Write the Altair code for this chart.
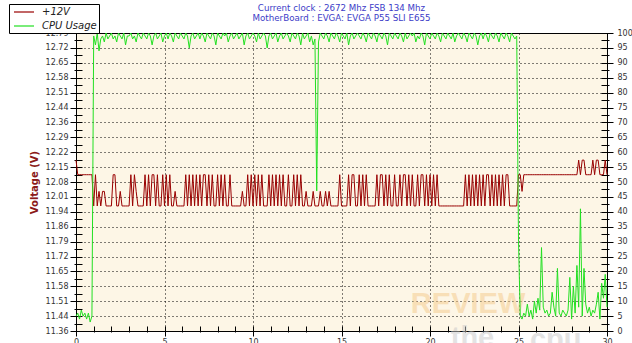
import altair as alt
import pandas as pd

# ---------------- data ----------------
# +12V readings, one row per second, sampled every 0.1 s (t = 0.0 ... 30.0)
volt_rows = [
    [12.18, 12.11, 12.11, 12.11, 12.11, 12.11, 12.11, 12.11, 12.11, 12.11],
    [11.96, 12.11, 11.96, 12.03, 11.96, 12.03, 12.03, 11.96, 11.96, 11.96],
    [11.96, 12.11, 12.11, 11.96, 11.96, 12.03, 11.96, 11.96, 11.96, 11.96],
    [11.96, 12.11, 11.96, 12.11, 12.03, 11.96, 11.96, 11.96, 11.96, 12.11],
    [11.96, 12.11, 11.96, 12.11, 12.11, 11.96, 12.11, 11.96, 11.96, 12.11],
    [11.96, 12.11, 11.96, 12.11, 11.96, 11.96, 12.03, 11.96, 11.96, 11.96],
    [11.96, 11.96, 12.11, 11.96, 12.11, 11.96, 12.11, 11.96, 12.11, 11.96],
    [12.11, 11.96, 12.11, 12.11, 11.96, 12.11, 11.96, 12.11, 11.96, 11.96],
    [12.11, 11.96, 12.11, 11.96, 12.11, 11.96, 11.96, 12.11, 11.96, 11.96],
    [11.96, 11.96, 11.96, 11.96, 12.03, 11.96, 11.96, 12.11, 11.96, 12.11],
    [11.96, 12.11, 11.96, 12.11, 11.96, 12.11, 11.96, 11.96, 11.96, 12.11],
    [11.96, 12.11, 11.96, 12.11, 11.96, 12.11, 11.96, 12.11, 11.96, 11.96],
    [12.11, 11.96, 11.96, 12.11, 11.96, 12.11, 11.96, 12.11, 11.96, 11.96],
    [12.03, 11.96, 11.96, 11.96, 12.03, 11.96, 11.96, 11.96, 12.03, 11.96],
    [11.96, 12.03, 11.96, 12.03, 11.96, 11.96, 11.96, 11.96, 11.96, 12.11],
    [11.96, 11.96, 11.96, 11.96, 12.11, 11.96, 12.11, 12.11, 11.96, 11.96],
    [12.11, 11.96, 12.11, 11.96, 12.11, 11.96, 11.96, 11.96, 11.96, 11.96],
    [12.11, 11.96, 12.11, 12.11, 11.96, 12.11, 11.96, 12.11, 11.96, 11.96],
    [12.11, 11.96, 11.96, 12.11, 11.96, 12.11, 12.11, 11.96, 12.11, 11.96],
    [12.11, 11.96, 11.96, 12.11, 11.96, 12.11, 12.11, 11.96, 12.11, 11.96],
    [12.11, 11.96, 12.11, 11.96, 12.11, 11.96, 11.96, 11.96, 11.96, 11.96],
    [11.96, 11.96, 11.96, 11.96, 11.96, 11.96, 11.96, 11.96, 11.96, 11.96],
    [12.11, 11.96, 12.11, 11.96, 12.11, 11.96, 12.11, 11.96, 12.11, 11.96],
    [12.11, 11.96, 12.11, 12.11, 11.96, 12.11, 11.96, 12.11, 11.96, 12.11],
    [11.96, 12.11, 11.96, 12.11, 12.11, 11.96, 11.96, 11.96, 11.96, 11.96],
    [12.11, 12.11, 12.03, 12.11, 12.11, 12.11, 12.11, 12.11, 12.11, 12.11],
    [12.11, 12.11, 12.11, 12.11, 12.11, 12.11, 12.11, 12.11, 12.11, 12.11],
    [12.11, 12.11, 12.11, 12.11, 12.11, 12.11, 12.11, 12.11, 12.11, 12.11],
    [12.11, 12.11, 12.11, 12.11, 12.18, 12.11, 12.18, 12.18, 12.11, 12.11],
    [12.11, 12.11, 12.18, 12.11, 12.18, 12.18, 12.11, 12.11, 12.11, 12.18],
    [12.11],
]

# CPU usage (%), same sampling
cpu_rows = [
    [5, 6, 4, 7, 5, 6, 4, 6, 3, 5],
    [99, 96, 100, 94, 98, 99, 97, 100, 98, 99],
    [100, 98, 99, 97, 100, 99, 98, 100, 96, 99],
    [99, 100, 98, 99, 97, 100, 99, 98, 100, 99],
    [98, 100, 99, 96, 99, 100, 98, 99, 100, 97],
    [99, 100, 98, 100, 99, 97, 100, 99, 98, 100],
    [99, 98, 100, 99, 95, 99, 100, 98, 99, 100],
    [98, 100, 99, 97, 100, 99, 98, 100, 99, 96],
    [100, 99, 98, 100, 99, 100, 97, 99, 100, 98],
    [99, 100, 98, 99, 100, 96, 99, 100, 98, 99],
    [100, 99, 97, 100, 98, 99, 100, 99, 95, 99],
    [100, 98, 99, 100, 97, 99, 100, 98, 99, 100],
    [99, 97, 100, 99, 98, 100, 99, 96, 100, 98],
    [99, 100, 97, 99, 96, 98, 47, 97, 100, 99],
    [98, 100, 99, 97, 100, 99, 98, 100, 99, 97],
    [100, 99, 98, 100, 96, 99, 100, 98, 99, 100],
    [99, 98, 100, 99, 97, 100, 99, 98, 100, 99],
    [97, 100, 99, 98, 100, 99, 96, 100, 99, 98],
    [100, 99, 98, 100, 99, 97, 100, 98, 99, 100],
    [99, 100, 97, 99, 98, 100, 99, 96, 100, 99],
    [98, 100, 99, 98, 100, 99, 97, 100, 99, 98],
    [100, 99, 98, 100, 97, 99, 100, 99, 98, 100],
    [99, 97, 100, 99, 98, 100, 99, 96, 99, 100],
    [98, 100, 99, 97, 100, 99, 98, 100, 99, 97],
    [100, 99, 98, 100, 99, 97, 100, 99, 98, 99],
    [30, 5, 4, 6, 5, 9, 5, 7, 4, 10],
    [6, 11, 7, 28, 8, 6, 7, 5, 6, 13],
    [8, 5, 21, 6, 5, 7, 6, 5, 7, 18],
    [4, 15, 6, 22, 8, 41, 5, 21, 9, 6],
    [8, 5, 7, 6, 9, 13, 4, 16, 11, 19],
    [8],
]

series_names = ["+12V", "CPU Usage"]
series_colors = ["#990000", "#22e022"]

volt_tick_labels = ["11.36", "11.44", "11.51", "11.58", "11.65", "11.72", "11.79",
                    "11.86", "11.94", "12.01", "12.08", "12.15", "12.22", "12.29",
                    "12.36", "12.44", "12.51", "12.58", "12.65", "12.72", "12.79"]
volt_domain = [11.36, 12.79]

title_lines = ["Current clock : 2672 Mhz FSB 134 Mhz",
               "MotherBoard : EVGA: EVGA P55 SLI E655"]

watermark_text = ["REVIEW", "the", "cpu"]
watermark_t = [22.15, 22.4, 27.1]
watermark_y = [9, -2.5, -3]

# ---------------- tables ----------------
volts = [v for row in volt_rows for v in row]
cpus = [c for row in cpu_rows for c in row]
times = [round(i * 0.1, 1) for i in range(len(volts))]

df_v = pd.DataFrame({"t": times, "v": volts, "series": series_names[0]})
df_c = pd.DataFrame({"t": times, "cpu": cpus, "series": series_names[1]})
df_w = pd.DataFrame({"t": watermark_t, "y": watermark_y, "txt": watermark_text})

FONT = "DejaVu Sans"

# tick positions
step = (volt_domain[1] - volt_domain[0]) / 20
v_major = [round(volt_domain[0] + k * step, 6) for k in range(21)]
v_minor = [round(volt_domain[0] + (k + 0.5) * step, 6) for k in range(20)]
v_vals = sorted(v_major + v_minor)
major_js = "[" + ",".join(repr(x) for x in v_major) + "]"
labels_js = "[" + ",".join("'" + s + "'" for s in volt_tick_labels) + "]"

x_scale = alt.Scale(domain=[0, 30], nice=False, zero=False)

x_axis = alt.Axis(
    values=list(range(31)),
    labelExpr="datum.value % 5 == 0 ? datum.label : ''",
    offset=-5, domain=False, tickColor="black", tickWidth=1,
    tickSize={"condition": {"test": "datum.value % 5 == 0", "value": 10}, "value": 6},
    grid=True, gridColor="black", gridDash=[1, 3], gridWidth=1,
    gridOpacity={"condition": {"test": "datum.value % 5 == 0 && datum.value > 0 && datum.value < 30", "value": 1}, "value": 0},
    labelFont=FONT, labelFontSize=8, labelColor="#333333", labelPadding=2,
    labelFlush=False, title=None,
)

left_axis = alt.Axis(
    orient="left", values=v_vals,
    labelExpr=f"indexof({major_js}, datum.value) >= 0 ? {labels_js}[indexof({major_js}, datum.value)] : ''",
    offset=-6, domain=False, tickColor="black", tickWidth=1,
    tickSize={"condition": {"test": f"indexof({major_js}, datum.value) >= 0", "value": 12}, "value": 8},
    grid=True, gridColor="black", gridDash=[1, 3], gridWidth=1,
    gridOpacity={"condition": {"test": f"indexof({major_js}, datum.value) >= 0 && datum.value > 11.37 && datum.value < 12.78", "value": 1}, "value": 0},
    labelFont=FONT, labelFontSize=8, labelColor="#333333", labelPadding=2,
    labelFlush=False,
    title="Voltage (V)", titleColor="#8b1a1a", titleFont=FONT, titleFontSize=10,
    titleFontWeight="bold", titlePadding=6,
)

right_axis = alt.Axis(
    orient="right", values=[k * 2.5 for k in range(41)],
    labelExpr="datum.value % 5 == 0 ? datum.label : ''",
    offset=-6, domain=False, tickColor="black", tickWidth=1,
    tickSize={"condition": {"test": "datum.value % 5 == 0", "value": 12}, "value": 8},
    grid=False,
    labelFont=FONT, labelFontSize=8, labelColor="#333333", labelPadding=4,
    labelFlush=False, title=None,
)

color_scale = alt.Scale(domain=series_names, range=series_colors)
legend = alt.Legend(
    title=None, orient="none", legendX=-67, legendY=-29,
    fillColor="white", strokeColor="black", padding=2,
    symbolType="M-2,0H2", symbolSize=100, symbolStrokeWidth=1.2, symbolOffset=7,
    labelFont=FONT, labelFontSize=10, labelFontStyle="italic", labelColor="#222222",
    labelOffset=12, rowPadding=3,
)

watermark = alt.Chart(df_w).mark_text(
    font="Liberation Sans", fontSize=29, fontWeight="bold", baseline="middle", align="center"
).encode(
    x=alt.X("t:Q", scale=x_scale, axis=x_axis),
    y=alt.Y("y:Q", scale=alt.Scale(domain=[0, 100], nice=False, zero=False), axis=None),
    text="txt:N",
    color=alt.condition("datum.txt == 'REVIEW'", alt.value("#f5c98a"), alt.value("#c8c8c8")),
    opacity=alt.value(0.5),
)

volt_line = alt.Chart(df_v).mark_line(strokeWidth=1, interpolate="linear").encode(
    x=alt.X("t:Q", scale=x_scale, axis=x_axis),
    y=alt.Y("v:Q", scale=alt.Scale(domain=volt_domain, nice=False, zero=False), axis=left_axis),
    color=alt.Color("series:N", scale=color_scale, legend=legend),
)

cpu_line = alt.Chart(df_c).mark_line(strokeWidth=1, interpolate="linear").encode(
    x=alt.X("t:Q", scale=x_scale, axis=x_axis),
    y=alt.Y("cpu:Q", scale=alt.Scale(domain=[0, 100], nice=False, zero=False), axis=right_axis),
    color=alt.Color("series:N", scale=color_scale, legend=legend),
)

chart = alt.layer(watermark, volt_line, cpu_line).resolve_scale(
    y="independent"
).properties(
    width=531, height=298,
    autosize=alt.AutoSizeParams(type="none"),
    padding={"left": 76, "top": 33, "right": 25, "bottom": 12},
    background="white",
    title=alt.TitleParams(
        text=title_lines, anchor="middle", font=FONT, fontSize=8.7,
        fontWeight="normal", color="#3c3cc8", lineHeight=10, offset=11, dy=30,
    ),
).configure_view(
    fill="#fdf6e6", stroke="black", strokeWidth=1,
)

chart.save("out.html", embed_options={"renderer": "svg", "actions": False})
